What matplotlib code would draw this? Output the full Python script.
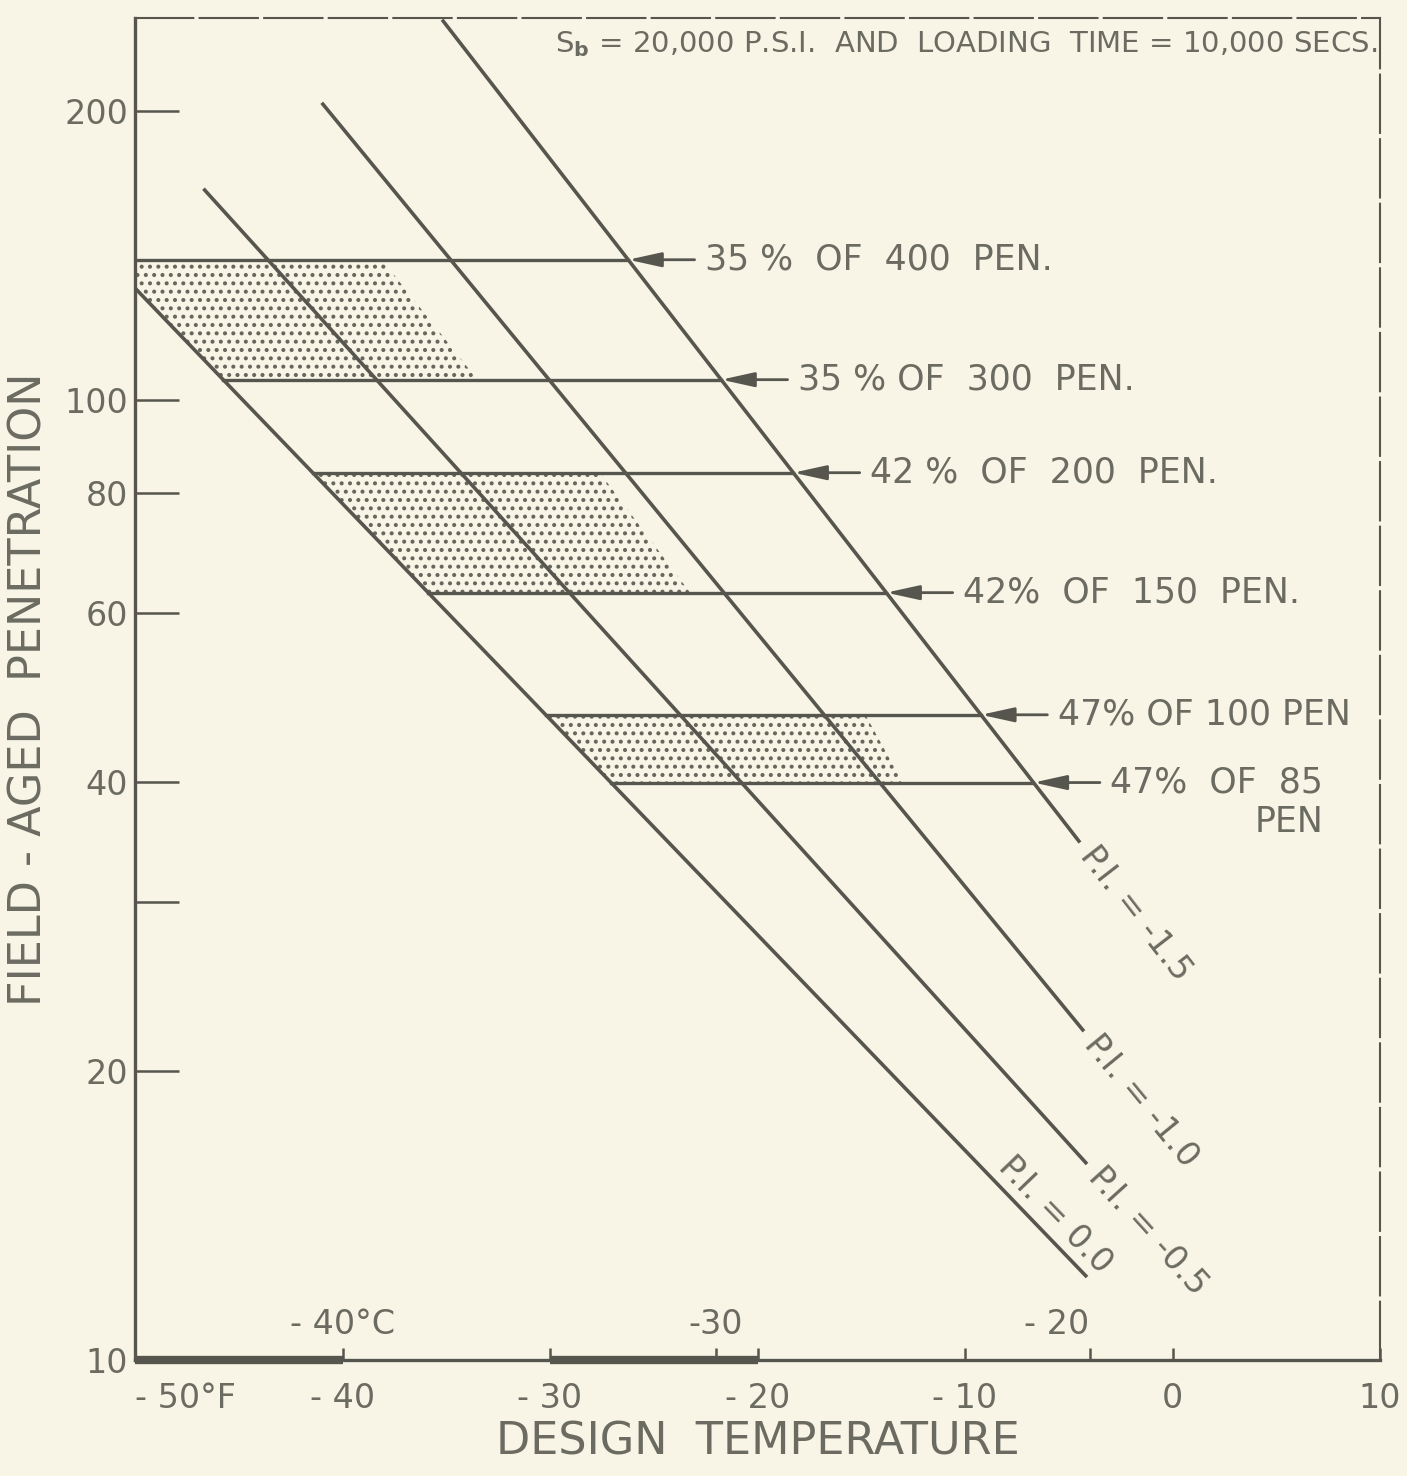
import numpy as np
import matplotlib.pyplot as plt
from matplotlib.ticker import NullLocator, FixedLocator

# values
temp_f_ticks = [-50, -40, -30, -20, -10, 0, 10]
temp_f_labels = ['- 50°F', '- 40', '- 30', '- 20', '- 10', '0', '10']
temp_c_marks = [-40, -30, -20]
temp_c_labels = ['- 40°C', '-30', '- 20']
pen_ticks = [10, 20, 30, 40, 60, 80, 100, 200]
pen_labels = ['10', '20', '', '40', '60', '80', '100', '200']

# P.I. lines (design temperature degF, field-aged penetration)
pi_values = ['-1.5', '-1.0', '-0.5', '0.0']
pi_start_t = [-35.2, -41.0, -46.7, -50.0]
pi_start_pen = [249, 204, 166, 130.8]
pi_end_t = [-4.46, -4.27, -4.12, -4.12]
pi_end_pen = [34.6, 22.0, 16.0, 12.2]

# grades: percent of original penetration retained
grade_pct = [35, 35, 42, 42, 47, 47]
grade_pen = [400, 300, 200, 150, 100, 85]
grade_labels = ['35 %  OF  400  PEN.', '35 % OF  300  PEN.', '42 %  OF  200  PEN.',
                '42%  OF  150  PEN.', '47% OF 100 PEN', '47%  OF  85']

# stippled bands (pairs of grades) and their right hand edges
band_pairs = [(0, 1), (2, 3), (4, 5)]
band_right_top = [-38.1, -27.6, -14.8]
band_right_bot = [-33.5, -23.25, -13.0]

bg = '#f8f5e6'
ink = '#56564f'
txt = '#6b6b61'
dots = '#66665d'

plt.rcParams['hatch.linewidth'] = 1.7

field_pen = [p * g / 100.0 for p, g in zip(grade_pct, grade_pen)]


def t_on(i, pen):
    # temperature on P.I. line i at a given penetration (straight in semi-log)
    return np.interp(np.log10(pen), [np.log10(pi_end_pen[i]), np.log10(pi_start_pen[i])],
                     [pi_end_t[i], pi_start_t[i]])


fig = plt.figure(figsize=(14.07, 14.76), dpi=100, facecolor=bg)
ax = fig.add_axes([135 / 1407, 116 / 1476, 1245 / 1407, 1342 / 1476])
ax.set_facecolor(bg)
ax.set_yscale('log')
ax.set_xlim(-50, 10)
ax.set_ylim(10, 250)

# stipple
for k, (a, b) in enumerate(band_pairs):
    p_top, p_bot = field_pen[a], field_pen[b]
    pts = [(t_on(3, p_bot), p_bot)]
    if p_bot < pi_start_pen[3] < p_top:
        pts.append((pi_start_t[3], pi_start_pen[3]))
    pts.append((t_on(3, p_top), p_top))
    pts += [(band_right_top[k], p_top), (band_right_bot[k], p_bot)]
    xs, ys = zip(*pts)
    ax.fill(xs, ys, facecolor='none', edgecolor=dots, hatch='..', linewidth=0, zorder=1)

# P.I. lines
for i in range(len(pi_values)):
    ax.plot([pi_start_t[i], pi_end_t[i]], [pi_start_pen[i], pi_end_pen[i]],
            color=ink, lw=2.6, solid_capstyle='butt', zorder=3)

# grade lines, arrows and labels
last = None
for p, lab in zip(field_pen, grade_labels):
    x0, x1 = t_on(3, p), t_on(0, p)
    ax.plot([x0, x1], [p, p], color=ink, lw=2.4, zorder=3)
    ax.annotate('', xy=(x1, p), xytext=(x1 + 3.2, p),
                arrowprops=dict(arrowstyle='-|>,head_length=1.0,head_width=0.22',
                                mutation_scale=20, color=ink, lw=2,
                                shrinkA=0, shrinkB=0), zorder=4)
    last = ax.text(x1 + 3.7, p, lab, fontsize=25, color=txt, ha='left', va='center')
ax.annotate('PEN', xy=(1, 0), xycoords=last, xytext=(0, -4), textcoords='offset points',
            fontsize=25, color=txt, ha='right', va='top')

# P.I. labels
for i, v in enumerate(pi_values):
    p1 = ax.transData.transform((pi_start_t[i], pi_start_pen[i]))
    p2 = ax.transData.transform((pi_end_t[i], pi_end_pen[i]))
    d = p2 - p1
    u = d / np.hypot(*d)
    ang = np.degrees(np.arctan2(d[1], d[0]))
    if v == '0.0':
        off = u * 8 + np.array([-u[1], u[0]]) * 4
        ha, va = 'right', 'bottom'
    else:
        off = u * 10
        ha, va = 'left', 'center'
    ax.annotate('P.I. = ' + v, xy=(pi_end_t[i], pi_end_pen[i]), xytext=off * 0.72,
                textcoords='offset points', rotation=ang, rotation_mode='anchor',
                ha=ha, va=va, fontsize=24, color=txt)

# axes styling
ax.set_xticks(temp_f_ticks)
ax.set_xticklabels(temp_f_labels)
ax.get_xticklabels()[0].set_ha('left')
c_in_f = [c * 9 / 5 + 32 for c in temp_c_marks]
ax.xaxis.set_minor_locator(FixedLocator(c_in_f))
ax.yaxis.set_major_locator(FixedLocator(pen_ticks))
ax.set_yticklabels(pen_labels)
ax.yaxis.set_minor_locator(NullLocator())
ax.tick_params(axis='x', which='both', direction='in', length=9, width=1.8, color=ink,
               labelsize=24, labelcolor=txt, pad=16)
ax.tick_params(axis='y', direction='in', length=32, width=1.8, color=ink,
               labelsize=24, labelcolor=txt, pad=5)

for c_f, lab, ha in zip(c_in_f, temp_c_labels, ['center', 'center', 'right']):
    ax.annotate(lab, xy=(c_f, 10), xytext=(0, 14), textcoords='offset points',
                ha=ha, va='bottom', fontsize=24, color=txt)

# hand-inked heavy bits of the bottom scale
for a, b in [(-50, -40), (-30, -20)]:
    ax.plot([a, b], [10, 10], color=ink, lw=6, solid_capstyle='butt', clip_on=False, zorder=5)

for s in ['left', 'bottom']:
    ax.spines[s].set_color(ink)
    ax.spines[s].set_linewidth(2.4)
for s in ['top', 'right']:
    ax.spines[s].set_color(ink)
    ax.spines[s].set_linewidth(1.5)
    ax.spines[s].set_linestyle((0, (28, 3)))

ax.text(0.998, 0.992, r'S$_\mathbf{b}$ = 20,000 P.S.I.  AND  LOADING  TIME = 10,000 SECS.',
        transform=ax.transAxes, ha='right', va='top', fontsize=21, color=txt)

ax.set_xlabel('DESIGN  TEMPERATURE', fontsize=32, color=txt)
ax.xaxis.set_label_coords(0.5, -0.045)
ax.xaxis.label.set_va('top')
ax.set_ylabel('FIELD - AGED  PENETRATION', fontsize=32, color=txt)
ax.yaxis.set_label_coords(-0.068, 0.5)

fig.savefig('out.png', dpi=100, facecolor=bg)
